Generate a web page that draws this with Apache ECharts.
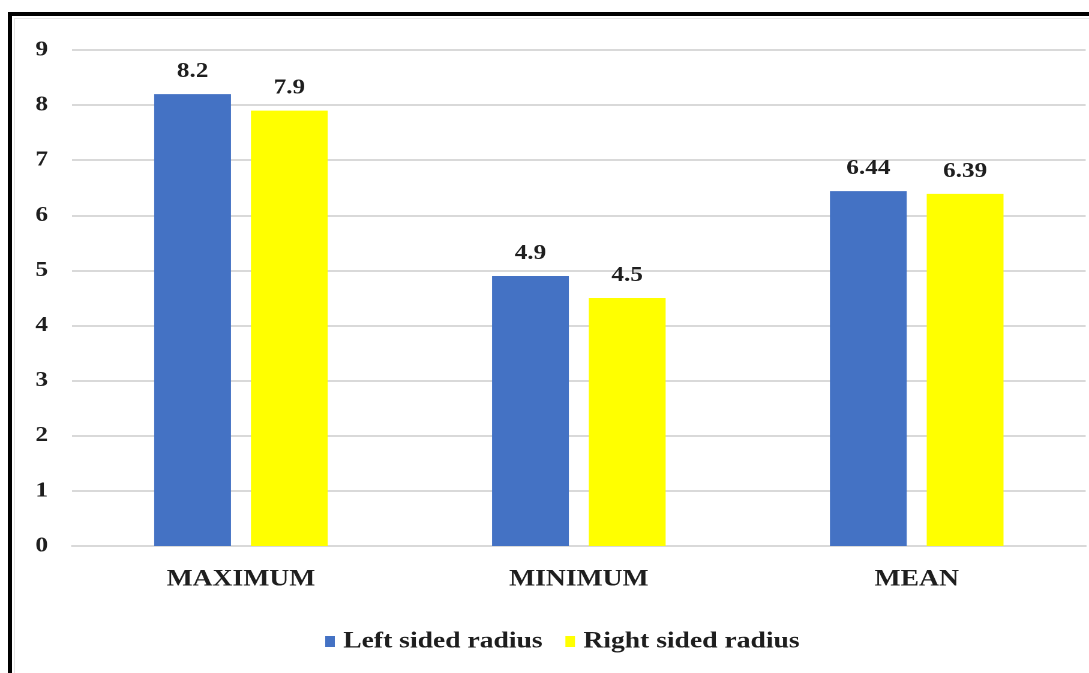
<!DOCTYPE html>
<html>
<head>
<meta charset="utf-8">
<script src="https://cdn.jsdelivr.net/npm/echarts@6/dist/echarts.min.js"></script>
<style>
  html, body { margin: 0; padding: 0; background: #fff; overflow: hidden; }
  /* The chart is laid out narrower and widened 1.2x, giving the broad lettering */
  #chart {
    position: absolute; left: 0; top: 0; width: 907.5px; height: 673px;
    transform: scaleX(1.2); transform-origin: 0 0;
  }
  #frame {
    position: absolute; left: 8px; top: 12px; width: 1100px; height: 700px;
    border-top: 4px solid #000; border-left: 4px solid #000;
    pointer-events: none; box-sizing: border-box;
  }
  #inner {
    position: absolute; left: 14px; top: 18px; width: 1100px; height: 700px;
    border-top: 1px solid #e6e6e6; border-left: 1px solid #e6e6e6;
    pointer-events: none; box-sizing: border-box;
  }
</style>
</head>
<body>
<div id="chart"></div>
<div id="inner"></div>
<div id="frame"></div>
<script>
// Radius measurements by category
const categories = ['MAXIMUM', 'MINIMUM', 'MEAN'];
const leftSided = [8.2, 4.9, 6.44];
const rightSided = [7.9, 4.5, 6.39];
const seriesNames = ['Left sided radius', 'Right sided radius'];

const serif = '"Liberation Serif", "Times New Roman", serif';
const ink = '#1e1e1e';

const chart = echarts.init(document.getElementById('chart'), null, { renderer: 'canvas', devicePixelRatio: 2 });

const labelStyle = {
  show: true,
  position: 'top',
  distance: 12,
  fontFamily: serif,
  fontWeight: 'bold',
  fontSize: 21,
  color: ink
};

chart.setOption({
  animation: false,
  backgroundColor: 'transparent',
  grid: { left: 60, right: 3.3, top: 50, bottom: 127 },
  legend: {
    data: seriesNames,
    left: 266,
    top: 625,
    itemWidth: 8,
    itemHeight: 11,
    itemGap: 19,
    icon: 'rect',
    textStyle: { fontFamily: serif, fontWeight: 'bold', fontSize: 23, color: ink, padding: [0, 0, 0, 2] }
  },
  xAxis: {
    type: 'category',
    data: categories,
    axisTick: { show: false },
    axisLine: { lineStyle: { color: '#d9d9d9', width: 2 } },
    axisLabel: {
      margin: 22,
      fontFamily: serif,
      fontWeight: 'bold',
      fontSize: 23,
      color: ink
    }
  },
  yAxis: {
    type: 'value',
    min: 0,
    max: 9,
    interval: 1,
    axisLine: { show: false },
    axisTick: { show: false },
    splitLine: { lineStyle: { color: '#d9d9d9', width: 2 } },
    axisLabel: {
      margin: 20,
      fontFamily: serif,
      fontWeight: 'bold',
      fontSize: 21,
      color: ink
    }
  },
  series: [
    {
      name: seriesNames[0],
      type: 'bar',
      data: leftSided,
      barWidth: 64,
      barGap: '26%',
      itemStyle: { color: '#4472C4' },
      label: labelStyle
    },
    {
      name: seriesNames[1],
      type: 'bar',
      data: rightSided,
      barWidth: 64,
      itemStyle: { color: '#FFFF00' },
      label: labelStyle
    }
  ]
});
</script>
</body>
</html>
